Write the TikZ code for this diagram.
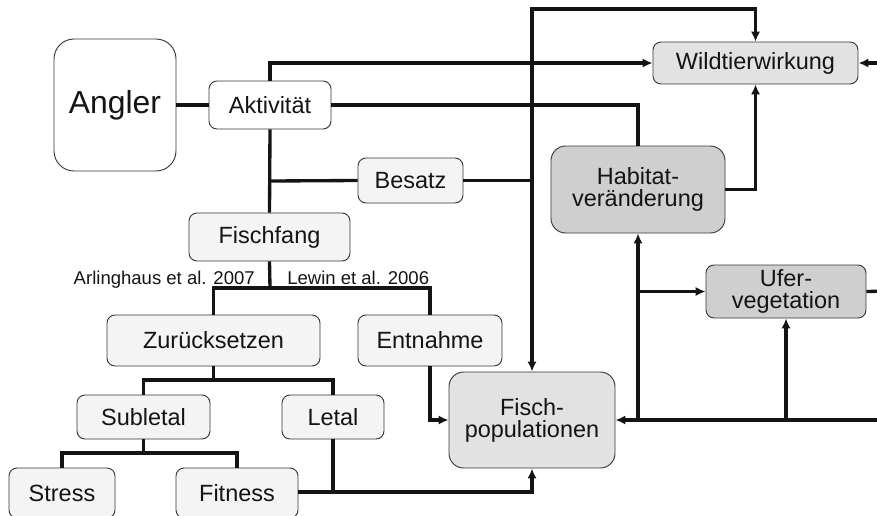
\documentclass[tikz,border=0pt]{standalone}
\usepackage{fontspec}
\setmainfont{Liberation Sans}
\usetikzlibrary{arrows.meta}
\definecolor{lightbox}{HTML}{F4F4F4}
\definecolor{midbox}{HTML}{E2E2E2}
\definecolor{darkbox}{HTML}{CFCFCF}
\definecolor{ink}{HTML}{141414}
\tikzset{
  box/.style={draw=ink!85, line width=0.7pt, rounded corners=6pt, inner sep=0pt, align=center,
    text=ink, font=\fontsize{17.6}{16.5}\selectfont},
  conn/.style={draw=ink, line width=2.5pt},
  tip/.tip={Latex[length=7.5pt,width=7pt]},
  arr/.style={conn, -tip},
  cite/.style={text=ink, font=\fontsize{13.9}{14}\selectfont, inner sep=0pt}
}
\begin{document}
\begin{tikzpicture}[x=0.75pt,y=-0.75pt]
\useasboundingbox (0,0) rectangle (877,515);
\clip (0,0) rectangle (877,515);
% nodes
\node[box, fill=white, rounded corners=15pt, minimum width=91.5pt, minimum height=99pt,
      font=\fontsize{23.9}{24}\selectfont] (angler) at (115,105) {Angler};
\node[box, fill=white, minimum width=91.5pt, minimum height=36pt] (akt) at (270,105) {Aktivität};
\node[box, fill=midbox, minimum width=153.75pt, minimum height=31.5pt] (wild) at (755.5,63) {Wildtierwirkung};
\node[box, fill=darkbox, rounded corners=11pt, minimum width=130.5pt, minimum height=65.25pt] (hab) at (638,189.5) {Habitat-\\veränderung};
\node[box, fill=lightbox, minimum width=78.75pt, minimum height=33.75pt] (besatz) at (410.5,180.5) {Besatz};
\node[box, fill=lightbox, minimum width=120.75pt, minimum height=36pt] (ff) at (269.5,237) {Fischfang};
\node[box, fill=lightbox, minimum width=159.75pt, minimum height=38.25pt] (zur) at (213.5,340.5) {Zurücksetzen};
\node[box, fill=lightbox, minimum width=108pt, minimum height=38.25pt] (ent) at (430,340.5) {Entnahme};
\node[box, fill=lightbox, minimum width=99.75pt, minimum height=33pt] (sub) at (143.5,417) {Subletal};
\node[box, fill=lightbox, minimum width=76.5pt, minimum height=33pt] (letal) at (333,417) {Letal};
\node[box, fill=lightbox, minimum width=79.5pt, minimum height=37.5pt] (stress) at (62,493) {Stress};
\node[box, fill=lightbox, minimum width=91.5pt, minimum height=37.5pt] (fit) at (237,493) {Fitness};
\node[box, fill=midbox, rounded corners=11pt, minimum width=124.5pt, minimum height=72pt] (fisch) at (532,420) {Fisch-\\populationen};
\node[box, fill=darkbox, minimum width=120pt, minimum height=39.75pt] (ufer) at (786,291.5) {Ufer-\\vegetation};
% citation labels
\node[cite, anchor=base east] (arl) at (255,284) {Arlinghaus et al. 2007};
\node[cite, anchor=base west] (lew) at (287,284) {Lewin et al. 2006};
% coordinates
\coordinate (top) at (532,9);
\coordinate (redgeW) at (890,63);
\coordinate (redgeF) at (890,420);
\coordinate (redgeU) at (890,291);
\coordinate (jhab) at (638,420);
\coordinate (jufer) at (786,420);
\coordinate (jbes) at (270,181);
\coordinate (bar1) at (270,288);
\coordinate (bar2) at (213,380);
\coordinate (bar3) at (143,453);
\coordinate (jfit) at (532,492);
% connectors
\draw[conn] (angler.east) -- (akt.west);
\draw[arr] (akt.north) |- (wild.west);
\draw[conn] (akt.east) -| (hab.north);
\draw[conn, tip-tip] (fisch.north) -- (top) -| (wild.north);
\draw[conn] (akt.south) -- (ff.north);
\draw[conn] (jbes) -- (besatz.west);
\draw[conn] (besatz.east) -- (besatz.east -| top);
\draw[arr] (hab.east) -| (wild.south);
\draw[arr] (redgeW) -- (wild.east);
% catch tree
\draw[conn] (ff.south) -- (bar1);
\draw[conn] (zur.north) -- (zur.north |- bar1) -- (ent.north |- bar1) -- (ent.north);
\draw[conn] (zur.south) -- (zur.south |- bar2);
\draw[conn] (sub.north) -- (sub.north |- bar2) -- (letal.north |- bar2) -- (letal.north);
\draw[conn] (sub.south) -- (sub.south |- bar3);
\draw[conn] (stress.north) -- (stress.north |- bar3) -- (fit.north |- bar3) -- (fit.north);
\draw[arr] (fit.east |- jfit) -- (jfit) -- (fisch.south);
\draw[conn] (letal.south) -- (letal.south |- jfit);
\draw[arr] (ent.south) |- (fisch.west);
% right side
\draw[arr] (redgeF) -- (fisch.east);
\draw[arr] (jhab) -- (hab.south);
\draw[arr] (hab.south |- ufer.west) -- (ufer.west);
\draw[arr] (jufer) -- (ufer.south);
\draw[conn] (ufer.east) -- (redgeU);
\end{tikzpicture}
\end{document}
